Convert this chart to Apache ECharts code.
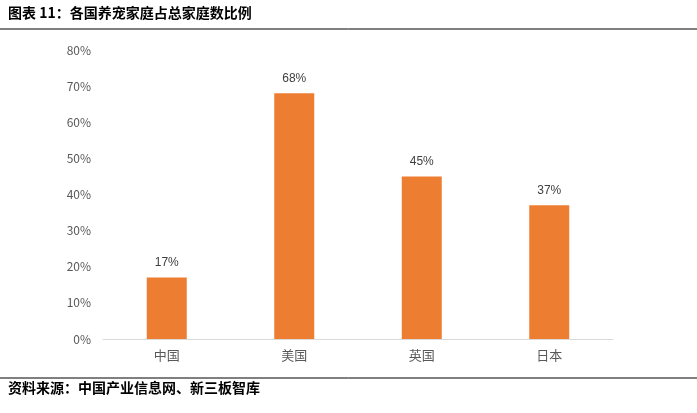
<!DOCTYPE html>
<html><head><meta charset="utf-8">
<script src="https://cdn.jsdelivr.net/npm/echarts@6/dist/echarts.min.js"></script>
<style>body{margin:0;background:#fff}#c{width:697px;height:413px}</style>
</head><body><div id="c"></div>
<script>
const categories = ['中国','美国','英国','日本'];
const values = [17, 68, 45, 37];
const yTicks = [0, 10, 20, 30, 40, 50, 60, 70, 80];
const chart = echarts.init(document.getElementById('c'));
const font = 'Microsoft YaHei, "Noto Sans CJK SC", sans-serif';
chart.setOption({
  animation:false,
  graphic:[
    {type:'text',left:8,top:6,style:{text:'图表 11：各国养宠家庭占总家庭数比例',font:'bold 14px "Noto Sans CJK SC"',fill:'#000'}},
    {type:'line',shape:{x1:0,y1:29,x2:697,y2:29},style:{stroke:'#000',lineWidth:1}},
    {type:'line',shape:{x1:0,y1:378,x2:697,y2:378},style:{stroke:'#000',lineWidth:1}},
    {type:'text',left:8,top:381,style:{text:'资料来源：中国产业信息网、新三板智库',font:'bold 14px "Noto Sans CJK SC"',fill:'#000'}}
  ],
  grid:{left:103,right:84,top:50,bottom:74},
  xAxis:{type:'category',data:categories,axisTick:{show:false},
    axisLine:{lineStyle:{color:'#d9d9d9'}},
    axisLabel:{color:'#595959',fontSize:13,fontFamily:font,margin:10}},
  yAxis:{type:'value',min:yTicks[0],max:yTicks[yTicks.length-1],interval:10,
    splitLine:{show:false},axisLine:{show:false},axisTick:{show:false},
    axisLabel:{formatter:'{value}%',color:'#595959',fontSize:12,fontFamily:font,margin:12}},
  series:[{type:'bar',data:values,barWidth:40,itemStyle:{color:'#ED7D31'},
    label:{show:true,position:'top',formatter:'{c}%',color:'#404040',fontSize:12,distance:9}}]
});
</script></body></html>
